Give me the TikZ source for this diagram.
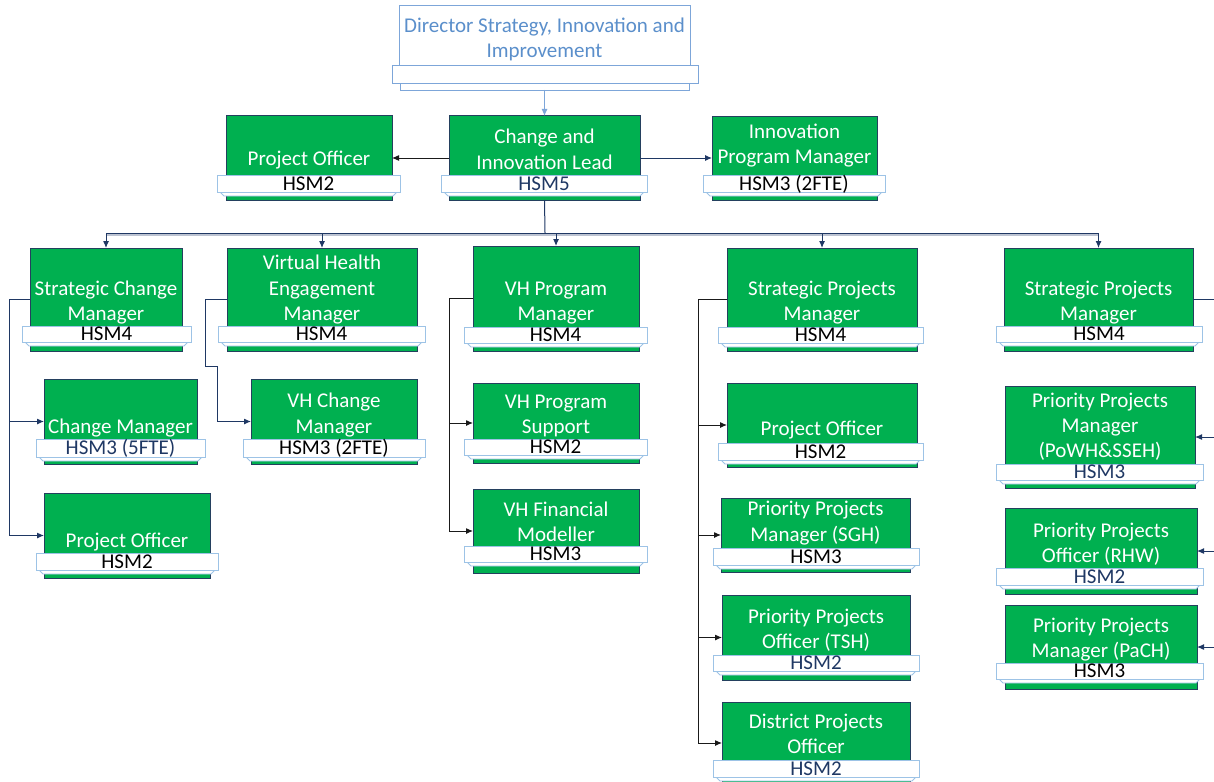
\documentclass[tikz,border=0pt]{standalone}
\usepackage{fontspec}
\setmainfont{Carlito}
\usetikzlibrary{arrows.meta}
\definecolor{gfill}{HTML}{00B050}
\definecolor{gline}{HTML}{24405E}
\definecolor{bline}{HTML}{9DC3E6}
\definecolor{navy}{HTML}{1F3864}
\definecolor{dblue}{HTML}{5B8FCB}
\definecolor{dline}{HTML}{7DA6D9}
\definecolor{cline}{HTML}{1A1A1A}
\tikzset{
 gbox/.style={draw=gline, fill=gfill, line width=1pt, inner sep=0pt, outer sep=0pt},
 barst/.style={draw=bline, fill=white, line width=0.9pt, inner sep=0pt, outer sep=0pt, text height=13.5pt, text depth=0pt, font=\fontsize{21}{25}\selectfont},
 lipst/.style={draw=bline, fill=white, line width=0.8pt},
 gtext/.style={anchor=base, text=white, inner sep=0pt, font=\fontsize{21}{25}\selectfont},
 dtext/.style={anchor=base, text=dblue, inner sep=0pt, font=\fontsize{21}{25}\selectfont},
 arrtip/.style={-{Latex[length=7pt,width=6pt]}},
 navyarr/.style={draw=navy, line width=1pt, arrtip},
 blackarr/.style={draw=cline, line width=1pt, arrtip},
 navyln/.style={draw=navy, line width=1pt},
 dirbox/.style={draw=dline, fill=white, line width=0.9pt, inner sep=0pt, outer sep=0pt},
}
\newcommand{\gb}[5]{\node[gbox, minimum width={#4-#2}, minimum height={#5-#3}] (#1) at ({(#2+#4)/2},{(#3+#5)/2}) {};}
\newcommand{\hb}[7]{%
 \filldraw[lipst] ({#2+3},{#5}) -- ({#2+7},{#5+4}) -- ({#4-7},{#5+4}) -- ({#4-3},{#5}) -- cycle;
 \node[barst, text=#6, minimum width={#4-#2}, minimum height={#5-#3}] (#1) at ({(#2+#4)/2},{(#3+#5)/2}) {#7};}
\newcommand{\tx}[4]{\node[gtext] (#1) at (#2,#3) {#4};}
\begin{document}
\begin{tikzpicture}[x=1pt,y=-1pt]
\useasboundingbox (0,0) rectangle (1214,781);
\clip (0,0) rectangle (1214,781);
\fill[white] (0,0) rectangle (1214,781);
\coordinate (redge) at (1214,0);

% Director
\node[dirbox, minimum width=291, minimum height=63] (dir) at (544.5,36.5) {};
\node[dirbox, minimum width=289, minimum height=8] (dirlip) at (544.5,86) {};
\node[dirbox, minimum width=306, minimum height=18] (dirbar) at (545,74) {};
\node[dtext] (dirt1) at (544.5,33) {Director Strategy, Innovation and};
\node[dtext] (dirt2) at (544.5,58) {Improvement};

% Row 1
\gb{po0}{226}{116}{392}{200}
\tx{po0t}{309}{165}{Project Officer}
\hb{po0b}{217}{175}{400}{192}{black}{HSM2}

\gb{cil}{449}{116}{640}{200}
\tx{cilt1}{544.5}{143}{Change and}
\tx{cilt2}{544.5}{169}{Innovation Lead}
\hb{cilb}{441}{175}{647}{192}{navy}{HSM5}

\gb{ipm}{712}{117}{877}{200}
\tx{ipmt1}{794.5}{139}{Innovation}
\tx{ipmt2}{794.5}{163}{Program Manager}
\hb{ipmb}{703}{175}{885}{192}{black}{HSM3 (2FTE)}

% Row 2
\gb{scm}{30}{248}{182}{351}
\tx{scmt1}{106}{295}{Strategic Change}
\tx{scmt2}{106}{320}{Manager}
\hb{scmb}{22}{326}{191}{342}{black}{HSM4}

\gb{vhem}{227}{248}{417}{351}
\tx{vhemt1}{322}{269}{Virtual Health}
\tx{vhemt2}{322}{295}{Engagement}
\tx{vhemt3}{322}{320}{Manager}
\hb{vhemb}{218}{326}{425}{342}{black}{HSM4}

\gb{vhpm}{473}{246}{639}{351}
\tx{vhpmt1}{556}{295}{VH Program}
\tx{vhpmt2}{556}{320}{Manager}
\hb{vhpmb}{464}{327}{647}{343}{black}{HSM4}

\gb{spma}{727}{248}{917}{351}
\tx{spmat1}{822}{295}{Strategic Projects}
\tx{spmat2}{822}{320}{Manager}
\hb{spmab}{718}{327}{923}{343}{black}{HSM4}

\gb{spmb}{1004}{248}{1193}{351}
\tx{spmbt1}{1098.5}{295}{Strategic Projects}
\tx{spmbt2}{1098.5}{320}{Manager}
\hb{spmbb}{996}{326}{1202}{342}{black}{HSM4}

% Column 1
\gb{cm}{44}{379}{197}{464}
\tx{cmt}{120.5}{433}{Change Manager}
\hb{cmb}{36}{439}{205}{457}{navy}{HSM3 (5FTE)}

\gb{poa}{44}{493}{210}{578}
\tx{poat}{127}{547}{Project Officer}
\hb{poab}{36}{553}{218}{570}{black}{HSM2}

% Column 2
\gb{vhcm}{251}{379}{417}{464}
\tx{vhcmt1}{334}{407}{VH Change}
\tx{vhcmt2}{334}{433}{Manager}
\hb{vhcmb}{243}{439}{425}{457}{black}{HSM3 (2FTE)}

% Column 3
\gb{vhps}{473}{383}{639}{463}
\tx{vhpst1}{556}{408}{VH Program}
\tx{vhpst2}{556}{433}{Support}
\hb{vhpsb}{464}{439}{647}{455}{black}{HSM2}

\gb{vhfm}{473}{489}{639}{573}
\tx{vhfmt1}{556}{516}{VH Financial}
\tx{vhfmt2}{556}{541}{Modeller}
\hb{vhfmb}{464}{546}{647}{562}{black}{HSM3}

% Column 4
\gb{pob}{727}{383}{917}{467}
\tx{pobt}{822}{435}{Project Officer}
\hb{pobb}{718}{443}{923}{460}{black}{HSM2}

\gb{sgh}{721}{498}{910}{572}
\tx{sght1}{815.5}{515}{Priority Projects}
\tx{sght2}{815.5}{541}{Manager (SGH)}
\hb{sghb}{713}{548}{919}{565}{black}{HSM3}

\gb{tsh}{722}{595}{910}{680}
\tx{tsht1}{816}{623}{Priority Projects}
\tx{tsht2}{816}{648}{Officer (TSH)}
\hb{tshb}{713}{655}{919}{671}{navy}{HSM2}

\gb{dpo}{722}{702}{910}{784}
\tx{dpot1}{816}{728}{District Projects}
\tx{dpot2}{816}{753}{Officer}
\hb{dpob}{713}{760}{919}{777}{navy}{HSM2}

% Column 5
\gb{pow}{1005}{386}{1195}{488}
\tx{powt1}{1100}{407}{Priority Projects}
\tx{powt2}{1100}{432}{Manager}
\tx{powt3}{1100}{457}{(PoWH\&SSEH)}
\hb{powb}{996}{464}{1203}{480}{navy}{HSM3}

\gb{rhw}{1005}{508}{1197}{594}
\tx{rhwt1}{1101}{537}{Priority Projects}
\tx{rhwt2}{1101}{562}{Officer (RHW)}
\hb{rhwb}{996}{568}{1203}{585}{navy}{HSM2}

\gb{pach}{1005}{605}{1197}{689}
\tx{pacht1}{1101}{632}{Priority Projects}
\tx{pacht2}{1101}{657}{Manager (PaCH)}
\hb{pachb}{996}{663}{1203}{679}{black}{HSM3}

% Connectors
\draw[draw=dline, line width=1pt, arrtip] (dirlip.south) -- (cil.north);
\draw[blackarr] (cil.west) -- (po0.east);
\draw[navyarr] (cil.east) -- (cil.east -| ipm.west);

\coordinate (bus) at (545,233);
\draw[navyln] (cil.south) -- (bus);
\draw[draw=navy!30, line width=1.2pt] ([yshift=-2pt]scm.north |- bus) -- ([yshift=-2pt]spmb.north |- bus);
\draw[navyln] (scm.north |- bus) -- (spmb.north |- bus);
\foreach \n in {scm,vhem,vhpm,spma,spmb} \draw[navyarr] (\n.north |- bus) -- (\n.north);

\draw[navyarr] (scm.west) -- ++(-21,0) |- (cm.west);
\draw[navyarr] (scm.west) -- ++(-21,0) |- (poa.west);
\draw[navyarr] (vhem.west) -- ++(-22,0) -- ++(0,67) -- ++(12,0) |- (vhcm.west);
\draw[blackarr] (vhpm.west) -- ++(-24,0) |- (vhps.west);
\draw[blackarr] (vhpm.west) -- ++(-24,0) |- (vhfm.west);
\draw[blackarr] (spma.west) -- ++(-29,0) |- (pob.west);
\draw[blackarr] (spma.west) -- ++(-29,0) |- (sgh.west);
\draw[blackarr] (spma.west) -- ++(-29,0) |- (tsh.west);
\draw[blackarr] (spma.west) -- ++(-29,0) |- (dpo.west);

\draw[navyln] (spmb.east) -- (spmb.east -| redge);
\coordinate (ea) at (pow.east -| redge);
\coordinate (eb) at (rhw.east -| redge);
\coordinate (ec) at (pach.east -| redge);
\draw[navyarr] (ea) -- (pow.east);
\draw[navyarr] (eb) -- (rhw.east);
\draw[navyarr] (ec) -- (pach.east);
\end{tikzpicture}
\end{document}
